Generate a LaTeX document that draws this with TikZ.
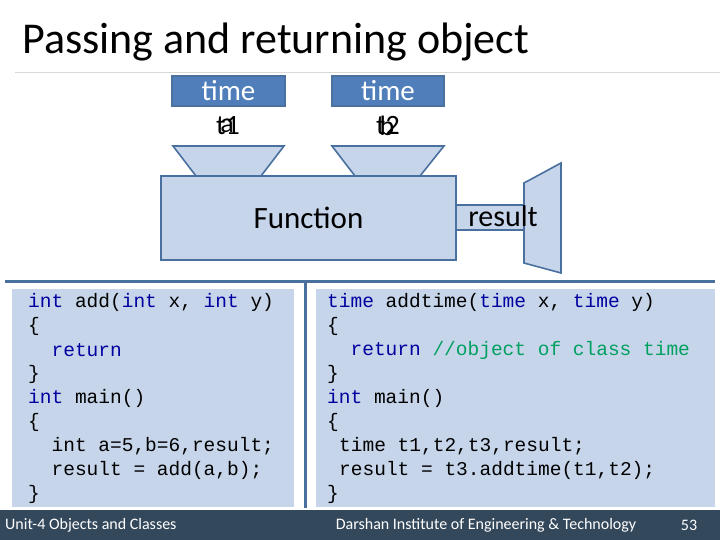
\documentclass[tikz,border=0pt]{standalone}
\usepackage{fontspec}
\setmainfont{Carlito}
\newfontfamily\codefont{Liberation Mono}
\begin{document}
\begin{tikzpicture}[x=1pt,y=-1pt,
  shapefill/.style={fill=lb,draw=db,line width=1.6pt},
  code/.style={anchor=west,inner sep=0pt,font=\codefont\fontsize{19.5}{20}\selectfont},
  foot/.style={text=white,font=\fontsize{16}{18}\selectfont,inner sep=0pt}]
\definecolor{lb}{HTML}{C6D5EA}
\definecolor{db}{HTML}{4A70A0}
\definecolor{tb}{HTML}{4F7EBA}
\definecolor{kw}{HTML}{0000A0}
\definecolor{cm}{HTML}{00A060}
\definecolor{ft}{HTML}{34485C}
\useasboundingbox (0,0) rectangle (720,540);
\fill[white] (0,0) rectangle (720,540);
\node[anchor=west,inner sep=0pt,font=\fontsize{44}{48}\selectfont] (title) at (22,42) {Passing and returning object};
\draw[gray!30,line width=0.8pt] (15,72) -- (720,72);
% type boxes
\node[draw=db,fill=tb,line width=1.2pt,minimum width=113pt,minimum height=30pt,inner sep=0pt,text=white,font=\fontsize{29}{30}\selectfont] (time1) at (228.5,91) {time};
\node[draw=db,fill=tb,line width=1.2pt,minimum width=112pt,minimum height=30pt,inner sep=0pt,text=white,font=\fontsize{29}{30}\selectfont] (time2) at (388,91) {time};
\node[font=\fontsize{28}{30}\selectfont,inner sep=0pt] (a1) at (228,126) {t1};
\node[font=\fontsize{28}{30}\selectfont,inner sep=0pt] (a2) at (227,126) {a};
\node[font=\fontsize{28}{30}\selectfont,inner sep=0pt] (b1) at (388,126) {t2};
\node[font=\fontsize{28}{30}\selectfont,inner sep=0pt] (b2) at (387,126) {b};
% funnels
\draw[shapefill] (173,146) -- (284,146) -- (261,176) -- (196,176) -- cycle;
\draw[shapefill] (332,146) -- (444,146) -- (420,176) -- (355,176) -- cycle;
% function
\node[shapefill,minimum width=295pt,minimum height=84pt,inner sep=0pt,font=\fontsize{31}{33}\selectfont] (func) at (308.5,218) {Function};
\draw[shapefill] (456,205) rectangle (525,230);
\draw[shapefill] (524,183) -- (561,163) -- (561,273) -- (524,263) -- cycle;
\node[font=\fontsize{30}{32}\selectfont,inner sep=0pt] (res) at (503,216) {result};
% dividers
\draw[db,line width=3pt] (5,281) -- (715,281);
\draw[db,line width=3pt] (305,281) -- (305,508);
\fill[lb] (12,289) rectangle (294,507);
\fill[lb] (316,289) rectangle (715,507);
% left code
\node[code] (l1) at (28,302) {\textcolor{kw}{int} add(\textcolor{kw}{int} x, \textcolor{kw}{int} y)};
\node[code] (l2) at (28,326) {\{};
\node[code] (l3) at (28,350) {\ \ \textcolor{kw}{return}};
\node[code] (l4) at (28,374) {\}};
\node[code] (l5) at (28,398) {\textcolor{kw}{int} main()};
\node[code] (l6) at (28,422) {\{};
\node[code] (l7) at (28,446) {\ \ int a=5,b=6,result;};
\node[code] (l8) at (28,470) {\ \ result = add(a,b);};
\node[code] (l9) at (28,494) {\}};
% right code
\node[code] (r1) at (327,302) {\textcolor{kw}{time} addtime(\textcolor{kw}{time} x, \textcolor{kw}{time} y)};
\node[code] (r2) at (327,326) {\{};
\node[code] (r3) at (327,350) {\ \ \textcolor{kw}{return} \textcolor{cm}{//object of class time}};
\node[code] (r4) at (327,374) {\}};
\node[code] (r5) at (327,398) {\textcolor{kw}{int} main()};
\node[code] (r6) at (327,422) {\{};
\node[code] (r7) at (339,446) {time t1,t2,t3,result;};
\node[code] (r8) at (339,470) {result = t3.addtime(t1,t2);};
\node[code] (r9) at (327,494) {\}};
% footer
\fill[ft] (0,510) rectangle (720,540);
\node[foot,anchor=west] (f1) at (5,525) {Unit-4 Objects and Classes};
\node[foot] (f2) at (486,525) {Darshan Institute of Engineering \& Technology};
\node[foot] (f3) at (689,525) {53};
\end{tikzpicture}
\end{document}
